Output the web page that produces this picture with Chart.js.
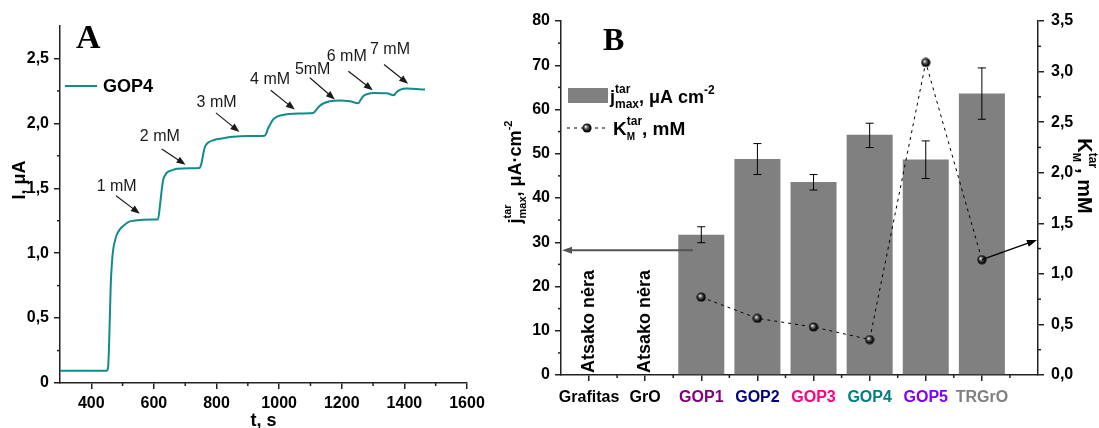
<!DOCTYPE html>
<html>
<head>
<meta charset="utf-8">
<script src="https://cdn.jsdelivr.net/npm/chart.js@4/dist/chart.umd.min.js"></script>
<style>
  body { margin: 0; background: #fff; width: 1099px; height: 428px; overflow: hidden; position: relative; }
  canvas { position: absolute; top: 0; }
  #chartA { left: 0; }
  #chartB { left: 490px; }
</style>
</head>
<body>
<canvas id="chartA" width="490" height="428"></canvas>
<canvas id="chartB" width="609" height="428"></canvas>
<script>
// ---- panel A: current response of GOP4 to glucose additions ----
var timeS = [300, 450, 454, 458, 462, 466, 470, 476, 481, 490, 502, 518, 534, 566, 600, 613,
  619, 625, 630, 636, 641, 657, 673, 715, 746,
  752, 758, 763, 768, 774, 790, 800, 830, 853, 900, 954,
  960, 966, 971, 981, 992, 1003, 1045, 1108,
  1114, 1120, 1130, 1141, 1162, 1194, 1226, 1253,
  1260, 1269, 1285, 1301, 1344, 1366,
  1373, 1380, 1396, 1407, 1440, 1466];
var currentUA = [0.095, 0.095, 0.13, 0.40, 0.75, 0.93, 1.03, 1.10, 1.14, 1.18, 1.21, 1.24, 1.25, 1.258, 1.26, 1.26,
  1.36, 1.49, 1.57, 1.60, 1.62, 1.638, 1.65, 1.654, 1.657,
  1.695, 1.77, 1.82, 1.84, 1.854, 1.87, 1.877, 1.89, 1.897, 1.902, 1.905,
  1.93, 1.97, 1.99, 2.03, 2.05, 2.06, 2.075, 2.08,
  2.09, 2.11, 2.135, 2.153, 2.17, 2.177, 2.17, 2.155,
  2.18, 2.21, 2.228, 2.234, 2.232, 2.216,
  2.235, 2.25, 2.266, 2.268, 2.265, 2.26];
var xTicksA = [400, 600, 800, 1000, 1200, 1400, 1600];
var xMinorA = [500, 700, 900, 1100, 1300, 1500];
var yTicksA = [0, 0.5, 1, 1.5, 2, 2.5];
var yMinorA = [0.25, 0.75, 1.25, 1.75, 2.25];

// concentration marks: label spot and arrow (time, current)
var stepLabels = ['1 mM', '2 mM', '3 mM', '4 mM', '5mM', '6 mM', '7 mM'];
var labelT = [481, 619, 800, 971, 1107, 1216, 1354];
var labelI = [1.515, 1.90, 2.158, 2.338, 2.415, 2.518, 2.569];
var arrowFromT = [479, 625, 798, 973, 1098, 1221, 1335];
var arrowFromI = [1.443, 1.803, 2.081, 2.255, 2.351, 2.402, 2.454];
var arrowToT = [555, 701, 873, 1050, 1178, 1299, 1412];
var arrowToI = [1.304, 1.682, 1.934, 2.106, 2.184, 2.255, 2.305];

// ---- panel B: jmax and apparent KM per electrode material ----
var materials = ['Grafitas', 'GrO', 'GOP1', 'GOP2', 'GOP3', 'GOP4', 'GOP5', 'TRGrO'];
var jmax = [null, null, 31.7, 48.8, 43.6, 54.3, 48.7, 63.6];
var jmaxLow = [null, null, 29.9, 45.3, 41.8, 51.4, 44.4, 57.8];
var jmaxHigh = [null, null, 33.5, 52.3, 45.3, 56.9, 52.9, 69.4];
var kmApp = [null, null, 0.77, 0.56, 0.475, 0.35, 3.09, 1.14];
var noResponse = 'Atsako nėra';
var yTicksB = [0, 10, 20, 30, 40, 50, 60, 70, 80];
var yMinorB = [5, 15, 25, 35, 45, 55, 65, 75];
var y2TicksB = [0, 0.5, 1, 1.5, 2, 2.5, 3, 3.5];
var y2MinorB = [0.25, 0.75, 1.25, 1.75, 2.25, 2.75, 3.25];
var xTicksB = [1, 2, 3, 4, 5, 6, 7, 8];
var xMinorB = [1.5, 2.5, 3.5, 4.5, 5.5, 6.5, 7.5, 8.5];
// arrows pointing to the axes (x, value)
var leftArrow = [2.85, 28.2, 0.5];
var rightArrow = [8, 1.14, 9, 1.335];

var labelColors = ['#000', '#000', '#800080', '#000080', '#ff0080', '#008080', '#8000ff', '#808080'];
var FONT = "'Liberation Sans', Arial, sans-serif";
var AXIS = '#222';
var TEAL = '#138b8b';

Chart.defaults.animation = false;
Chart.defaults.font.family = FONT;

function commaNum(v, d) { return v.toFixed(d).replace('.', ','); }

function fixTicks(arr) {
  return function (s) { s.ticks = arr.map(function (v) { return { value: v }; }); };
}

function drawArrow(ctx, x1, y1, x2, y2, len, half) {
  var a = Math.atan2(y2 - y1, x2 - x1);
  ctx.beginPath();
  ctx.moveTo(x1, y1);
  ctx.lineTo(x2 - Math.cos(a) * len * 0.8, y2 - Math.sin(a) * len * 0.8);
  ctx.stroke();
  ctx.beginPath();
  ctx.moveTo(x2, y2);
  ctx.lineTo(x2 - Math.cos(a) * len - Math.sin(a) * half, y2 - Math.sin(a) * len + Math.cos(a) * half);
  ctx.lineTo(x2 - Math.cos(a) * len + Math.sin(a) * half, y2 - Math.sin(a) * len - Math.cos(a) * half);
  ctx.closePath();
  ctx.fill();
}

// text with stacked super/subscripts: [text, size, dy, stacked]
function richText(ctx, parts, x, y, dry) {
  var cx = x, stackW = 0;
  parts.forEach(function (p) {
    ctx.font = 'bold ' + p[1] + 'px ' + FONT;
    if (!dry) ctx.fillText(p[0], cx, y + p[2]);
    var w = ctx.measureText(p[0]).width;
    if (p[3]) stackW = w;
    else { cx += Math.max(w, stackW); stackW = 0; }
  });
  return cx - x;
}

var minorTicks = {
  id: 'minorTicks',
  afterDraw: function (chart, args, opts) {
    var ctx = chart.ctx;
    ctx.save();
    ctx.strokeStyle = AXIS;
    ctx.lineWidth = 1.5;
    Object.keys(opts.values || {}).forEach(function (id) {
      var s = chart.scales[id];
      opts.values[id].forEach(function (v) {
        var p = s.getPixelForValue(v);
        ctx.beginPath();
        if (s.isHorizontal()) { ctx.moveTo(p, s.top); ctx.lineTo(p, s.top + 3); }
        else if (s.position === 'left') { ctx.moveTo(s.right, p); ctx.lineTo(s.right - 3, p); }
        else { ctx.moveTo(s.left, p); ctx.lineTo(s.left + 3, p); }
        ctx.stroke();
      });
    });
    ctx.restore();
  }
};

function axisOpts(ticksArr, fmt, extra) {
  var o = {
    type: 'linear',
    afterBuildTicks: fixTicks(ticksArr),
    border: { color: AXIS, width: 1.5 },
    grid: { drawOnChartArea: false, color: AXIS, tickLength: 6, lineWidth: 1.5 },
    ticks: { color: '#000', autoSkip: false, maxRotation: 0, padding: 5,
      font: { family: FONT, size: 16, weight: 'bold' }, callback: fmt }
  };
  return Object.assign(o, extra);
}

// ---------------- chart A ----------------
var annotA = {
  id: 'annotA',
  afterDraw: function (chart) {
    var ctx = chart.ctx, x = chart.scales.x, y = chart.scales.y;
    ctx.save();
    ctx.fillStyle = '#1a1a1a';
    ctx.strokeStyle = '#1a1a1a';
    ctx.lineWidth = 1.2;
    ctx.font = '16px ' + FONT;
    ctx.textAlign = 'center';
    ctx.textBaseline = 'middle';
    stepLabels.forEach(function (lab, i) {
      ctx.fillText(lab, x.getPixelForValue(labelT[i]), y.getPixelForValue(labelI[i]));
      drawArrow(ctx, x.getPixelForValue(arrowFromT[i]), y.getPixelForValue(arrowFromI[i]),
        x.getPixelForValue(arrowToT[i]), y.getPixelForValue(arrowToI[i]), 9, 3.5);
    });
    // legend
    ctx.strokeStyle = TEAL;
    ctx.lineWidth = 2;
    ctx.beginPath(); ctx.moveTo(65, 86); ctx.lineTo(97, 86); ctx.stroke();
    ctx.fillStyle = '#000';
    ctx.textAlign = 'left';
    ctx.font = 'bold 18px ' + FONT;
    ctx.fillText('GOP4', 103, 87);
    // axis titles
    ctx.textBaseline = 'alphabetic';
    ctx.textAlign = 'center';
    ctx.fillText('t, s', (chart.chartArea.left + chart.chartArea.right) / 2, 426);
    ctx.save();
    ctx.translate(25, 180);
    ctx.rotate(-Math.PI / 2);
    ctx.fillText('I, μA', 0, 0);
    ctx.restore();
    // panel letter
    ctx.textAlign = 'left';
    ctx.font = 'bold 34px "Liberation Serif", "Times New Roman", serif';
    ctx.fillText('A', 76, 48);
    ctx.restore();
  }
};

new Chart(document.getElementById('chartA'), {
  type: 'line',
  data: {
    datasets: [{
      label: 'GOP4',
      data: timeS.map(function (t, i) { return { x: t, y: currentUA[i] }; }),
      borderColor: TEAL,
      borderWidth: 2,
      pointRadius: 0,
      cubicInterpolationMode: 'monotone'
    }]
  },
  options: {
    responsive: false,
    layout: { padding: { top: 26, right: 23, left: 0, bottom: 0 } },
    plugins: {
      legend: { display: false },
      tooltip: { enabled: false },
      minorTicks: { values: { x: xMinorA, y: yMinorA } }
    },
    scales: {
      x: axisOpts(xTicksA, function (v) { return String(v); },
        { min: 300, max: 1600, afterFit: function (s) { s.height = 45; } }),
      y: axisOpts(yTicksA, function (v) { return v === 0 ? '0' : commaNum(v, 1); },
        { min: 0, max: 2.75, afterFit: function (s) { s.width = 60; } })
    }
  },
  plugins: [minorTicks, annotA]
});

// ---------------- chart B ----------------
var sphere = document.createElement('canvas');
sphere.width = 10; sphere.height = 10;
(function () {
  var c = sphere.getContext('2d');
  var g = c.createRadialGradient(3.6, 3.6, 0.2, 5, 5, 5);
  g.addColorStop(0, '#ffffff');
  g.addColorStop(0.28, '#777777');
  g.addColorStop(0.65, '#111111');
  g.addColorStop(1, '#000000');
  c.fillStyle = g;
  c.beginPath(); c.arc(5, 5, 4.6, 0, Math.PI * 2); c.fill();
})();

var annotB = {
  id: 'annotB',
  afterDatasetsDraw: function (chart) {
    var ctx = chart.ctx, y = chart.scales.y;
    var meta = chart.getDatasetMeta(0);
    ctx.save();
    ctx.strokeStyle = '#000';
    ctx.lineWidth = 1;
    meta.data.forEach(function (bar, k) {
      var i = chart.data.datasets[0].data[k].x - 1;
      var lo = y.getPixelForValue(jmaxLow[i]), hi = y.getPixelForValue(jmaxHigh[i]);
      ctx.beginPath();
      ctx.moveTo(bar.x, lo); ctx.lineTo(bar.x, hi);
      ctx.moveTo(bar.x - 4, lo); ctx.lineTo(bar.x + 4, lo);
      ctx.moveTo(bar.x - 4, hi); ctx.lineTo(bar.x + 4, hi);
      ctx.stroke();
    });
    ctx.restore();
  },
  afterDraw: function (chart) {
    var ctx = chart.ctx, x = chart.scales.x, y = chart.scales.y, y2 = chart.scales.y2;
    var ca = chart.chartArea;
    ctx.save();
    // no-response labels
    ctx.fillStyle = '#000';
    ctx.font = 'bold 18px ' + FONT;
    ctx.textAlign = 'left';
    ctx.textBaseline = 'middle';
    materials.forEach(function (m, i) {
      if (jmax[i] !== null) return;
      ctx.save();
      ctx.translate(x.getPixelForValue(i + 1), ca.bottom - 2);
      ctx.rotate(-Math.PI / 2);
      ctx.fillText(noResponse, 0, 0);
      ctx.restore();
    });
    // arrows toward the axes
    ctx.strokeStyle = '#555';
    ctx.fillStyle = '#555';
    ctx.lineWidth = 2;
    drawArrow(ctx, x.getPixelForValue(leftArrow[0]), y.getPixelForValue(leftArrow[1]),
      x.getPixelForValue(leftArrow[2]) + 1, y.getPixelForValue(leftArrow[1]), 10, 3.5);
    ctx.strokeStyle = '#000';
    ctx.fillStyle = '#000';
    ctx.lineWidth = 1.3;
    drawArrow(ctx, x.getPixelForValue(rightArrow[0]), y2.getPixelForValue(rightArrow[1]),
      x.getPixelForValue(rightArrow[2]) - 1, y2.getPixelForValue(rightArrow[3]), 10, 3.5);

    // legend
    var L = ca.left;
    ctx.textBaseline = 'alphabetic';
    ctx.fillStyle = '#808080';
    ctx.fillRect(L + 7, 88, 40, 15);
    ctx.fillStyle = '#000';
    richText(ctx, [['j', 18, 0], ['tar', 12, -10, true], ['max', 12, 5], [', μA cm', 18, 0], ['-2', 12, -9]], L + 49, 103);
    ctx.strokeStyle = '#000';
    ctx.lineWidth = 1;
    ctx.setLineDash([3, 4]);
    ctx.beginPath(); ctx.moveTo(L + 6, 128); ctx.lineTo(L + 46, 128); ctx.stroke();
    ctx.setLineDash([]);
    ctx.drawImage(sphere, L + 21, 123);
    richText(ctx, [['K', 19, 0], ['tar', 12, -10, true], ['M', 10, 5], [', mM', 19, 0]], L + 52, 135);

    // left axis title
    var leftParts = [['j', 18, 0], ['tar', 11, -10, true], ['max', 11, 5], [', μA·cm', 18, 0], ['-2', 11, -9]];
    var w = richText(ctx, leftParts, 0, 0, true);
    ctx.save();
    ctx.translate(31, 172);
    ctx.rotate(-Math.PI / 2);
    richText(ctx, leftParts, -w / 2, 0);
    ctx.restore();
    // right axis title
    var rightParts = [['K', 20, 0], ['tar', 12, -11, true], ['M', 11, 5], [', mM', 20, 0]];
    w = richText(ctx, rightParts, 0, 0, true);
    ctx.save();
    ctx.translate(588, 176);
    ctx.rotate(Math.PI / 2);
    richText(ctx, rightParts, -w / 2, 0);
    ctx.restore();

    // panel letter
    ctx.font = 'bold 32px "Liberation Serif", "Times New Roman", serif';
    ctx.textAlign = 'left';
    ctx.fillText('B', 113, 50);
    ctx.restore();
  }
};

var barData = [], kmData = [];
materials.forEach(function (m, i) {
  if (jmax[i] !== null) barData.push({ x: i + 1, y: jmax[i] });
  if (kmApp[i] !== null) kmData.push({ x: i + 1, y: kmApp[i] });
});

new Chart(document.getElementById('chartB'), {
  type: 'bar',
  data: {
    datasets: [{
      type: 'bar',
      label: 'jmax',
      data: barData,
      backgroundColor: '#808080',
      categoryPercentage: 0.82,
      barPercentage: 1,
      yAxisID: 'y',
      order: 2
    }, {
      type: 'line',
      label: 'KM',
      data: kmData,
      yAxisID: 'y2',
      borderColor: '#000',
      borderWidth: 1,
      borderDash: [3, 4],
      pointStyle: sphere,
      pointRadius: 5,
      tension: 0,
      order: 1
    }]
  },
  options: {
    responsive: false,
    layout: { padding: { top: 21, right: 0, left: 0, bottom: 0 } },
    plugins: {
      legend: { display: false },
      tooltip: { enabled: false },
      minorTicks: { values: { x: xMinorB, y: yMinorB, y2: y2MinorB } }
    },
    scales: {
      x: axisOpts(xTicksB, function (v) { return materials[v - 1] || ''; }, {
        min: 0.5, max: 9, offset: false,
        afterFit: function (s) { s.height = 53; }
      }),
      y: axisOpts(yTicksB, function (v) { return String(v); }, {
        position: 'left', min: 0, max: 80,
        afterFit: function (s) { s.width = 71; }
      }),
      y2: axisOpts(y2TicksB, function (v) { return commaNum(v, 1); }, {
        position: 'right', min: 0, max: 3.5,
        afterFit: function (s) { s.width = 61; }
      })
    }
  },
  plugins: [minorTicks, annotB]
});
(function () {
  var ch = Chart.getChart('chartB');
  ch.options.scales.x.grid.offset = false;
  ch.options.scales.x.ticks.color = function (c) { return labelColors[c.index] || '#000'; };
  ch.options.scales.x.ticks.padding = 7;
  ch.options.scales.y2.ticks.padding = 7;
  ch.update();
})();
</script>
</body>
</html>
